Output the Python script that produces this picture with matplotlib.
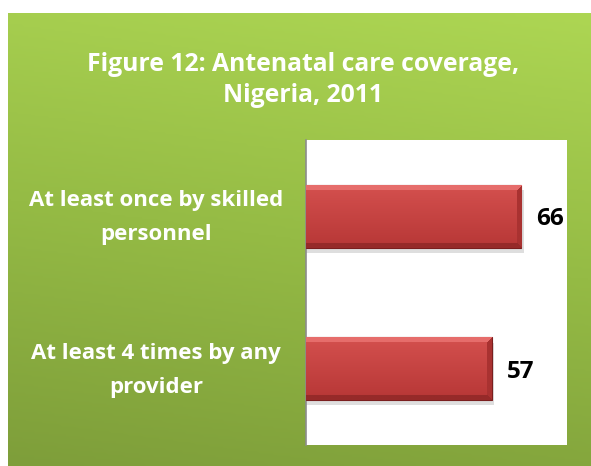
import numpy as np
import matplotlib
matplotlib.use("Agg")
import matplotlib.pyplot as plt
from matplotlib.colors import LinearSegmentedColormap, to_rgb
from matplotlib.transforms import blended_transform_factory

title = "Figure 12: Antenatal care coverage,\nNigeria, 2011"
categories = ["At least once by skilled\npersonnel", "At least 4 times by any\nprovider"]
values = [66, 57]

W, H = 591, 466
fig = plt.figure(figsize=(W / 100, H / 100), dpi=100, facecolor="white")

# green gradient panel
bg = fig.add_axes([8 / W, 0, 1 - 8 / W, 1 - 13 / H])
bg.set_axis_off()
yy, xx = np.mgrid[0:1:200j, 0:1:200j]
shade = 0.85 * yy + 0.15 * xx
green = LinearSegmentedColormap.from_list("g", ["#7e9e3a", "#95bb45", "#add653"])
bg.imshow(shade, cmap=green, origin="lower", aspect="auto", extent=[0, 1, 0, 1])
bg.set_xlim(0, 1)
bg.set_ylim(0, 1)

fig.text(303 / W, 1 - 80 / H, title, ha="center", va="center", color="white",
         fontsize=17.8, fontweight="bold", family="Open Sans", linespacing=1.32)

ax = fig.add_axes([306 / W, 1 - 445 / H, 261 / W, 305 / H])
ax.set_facecolor("white")
ypos = np.arange(len(values))
bars = ax.barh(ypos, values, height=0.41, color="#c43d3c", edgecolor="#7a1e1e", linewidth=0.8, zorder=3)


def bevel_image(npx_w, npx_h, bev=5):
    # bar face with a light top bevel, dark bottom / right bevels
    top = np.array(to_rgb("#d4504e"))
    bot = np.array(to_rgb("#b73736"))
    t = np.linspace(0, 1, npx_h).reshape(-1, 1, 1)
    img = (top * (1 - t) + bot * t) * np.ones((1, npx_w, 1))
    r, c = np.mgrid[0:npx_h, 0:npx_w]
    dt, db, dr = r, npx_h - 1 - r, npx_w - 1 - c
    dmin = np.minimum(np.minimum(dt, db), dr)
    img[(dmin < bev) & (dt == dmin)] = to_rgb("#e66d6b")
    img[(dmin < bev) & (db == dmin) & (dt != dmin)] = to_rgb("#962a29")
    img[(dmin < bev) & (dr == dmin) & (dt != dmin) & (db != dmin)] = to_rgb("#a93231")
    return img


px_per_unit = 261 / 80
for b in bars:
    x0, y0, w, h = b.get_x(), b.get_y(), b.get_width(), b.get_height()
    # shadow
    ax.barh(y0 + h / 2 + 0.035, w + 0.7, height=h, left=x0, color="#000000", alpha=0.13, zorder=2)
    img = bevel_image(int(w * px_per_unit), 62)
    im = ax.imshow(img, origin="upper", aspect="auto",
                   extent=[x0, x0 + w, y0 + h, y0], zorder=4)
    im.set_clip_path(b)

for y, v in zip(ypos, values):
    ax.text(v + 4.6, y + 0.02, str(v), ha="left", va="center", fontsize=17.5,
            fontweight="bold", family="Open Sans", color="black")

# category labels, centred in the space left of the axis
trans = blended_transform_factory(ax.transAxes, ax.transData)
for y, lab in zip(ypos, categories):
    ax.text(-150 / 261, y + 0.01, lab, transform=trans, ha="center", va="center",
            color="white", fontsize=16, fontweight="bold", family="Open Sans",
            linespacing=1.8, clip_on=False)

ax.set_xlim(0, 80)
ax.set_ylim(1.5, -0.5)
ax.set_xticks([])
ax.set_yticks([])
for s in ["top", "right", "bottom"]:
    ax.spines[s].set_visible(False)
ax.spines["left"].set_color("#8c8c8c")
ax.spines["left"].set_linewidth(1.2)

fig.savefig("out.png", dpi=100, facecolor="white")
